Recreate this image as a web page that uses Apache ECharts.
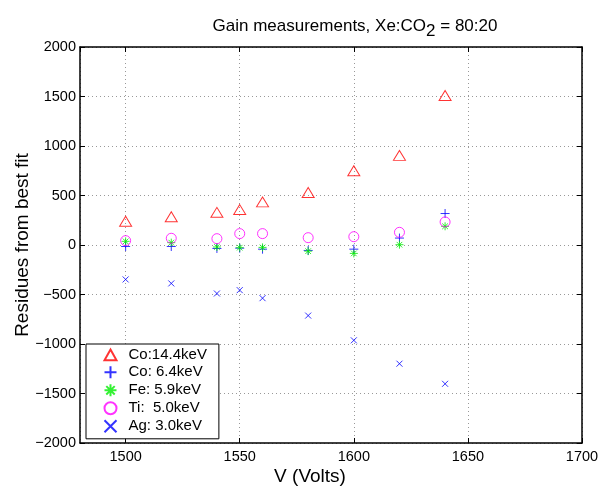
<!DOCTYPE html>
<html><head><meta charset="utf-8">
<script src="https://cdn.jsdelivr.net/npm/echarts@6/dist/echarts.min.js"></script>
<style>html,body{margin:0;padding:0;background:#fff}#c{width:610px;height:488px}</style>
</head><body><div id="c"></div>
<script>
var voltages = [1500, 1520, 1540, 1550, 1560, 1580, 1600, 1620, 1640];
var co144 = [240, 285, 330, 358, 435, 530, 750, 905, 1510];
var co64  = [-15, -15, -35, -32, -42, -55, -42, 70, 318];
var fe59  = [37, 24, -20, -27, -24, -62, -85, 3, 189];
var ti50  = [44, 68, 64, 115, 115, 74, 84, 128, 233];
var ag30  = [-348, -388, -490, -456, -537, -713, -963, -1199, -1402];
var seriesNames = ['Co:14.4keV', 'Co: 6.4keV', 'Fe: 5.9keV', 'Ti:  5.0keV', 'Ag: 3.0keV'];

var FONT = 'Liberation Sans, Arial, sans-serif';
function pairs(ys){ return voltages.map(function(v,i){ return [v, ys[i]]; }); }

var SYM = {
  tri: 'path://M5,0 L10,9 L0,9 Z',
  plus: 'path://M5,0 L5,10 M0,5 L10,5',
  star: 'path://M5,0 L5,10 M0,5 L10,5 M1.5,1.5 L8.5,8.5 M1.5,8.5 L8.5,1.5',
  circ: 'circle',
  cross: 'path://M0,0 L10,10 M0,10 L10,0'
};
function mk(name, data, sym, size, color){
  return {
    name: name, type: 'scatter', data: pairs(data), symbol: sym, symbolSize: size,
    symbolKeepAspect: true,
    itemStyle: { color: 'none', borderColor: color, borderWidth: 1 },
    emphasis: { disabled: true }, silent: true
  };
}
var chart = echarts.init(document.getElementById('c'), null, {renderer: 'canvas'});
var gridLine = { show: true, lineStyle: { color: '#999', type: [1, 3], width: 1 } };
chart.setOption({
  animation: false,
  backgroundColor: '#fff',
  title: {
    text: 'Gain measurements, Xe:CO{s|2} = 80:20',
    left: 350, top: 8, textAlign: 'center',
    textStyle: { fontFamily: FONT, fontSize: 17, fontWeight: 'normal', color: '#000',
      rich: { s: { fontFamily: FONT, fontSize: 17, verticalAlign: 'bottom', padding: [10,0,0,0], color: '#000' } } }
  },
  grid: { left: 80, top: 47, width: 502, height: 396, containLabel: false, outerBoundsMode: 'none' },
  legend: {
    left: 86, top: 344, orient: 'vertical',
    backgroundColor: '#fff', borderColor: '#000', borderWidth: 1,
    padding: [3, 12, 4, 16], itemGap: 1, itemWidth: 12, itemHeight: 13,
    textStyle: { fontFamily: FONT, fontSize: 15, color: '#000', padding: [0,0,0,7] },
    data: seriesNames
  },
  xAxis: [{
    type: 'value', min: 1480, max: 1700, splitNumber: 5, position: 'bottom',
    name: 'V (Volts)', nameLocation: 'middle', nameGap: 24, nameMoveOverlap: false,
    nameTextStyle: { fontFamily: FONT, fontSize: 19, color: '#000', padding: [0, 42, 0, 0] },
    axisLine: { show: true, onZero: false, lineStyle: { color: '#000', width: 1.5 } },
    axisTick: { show: true, inside: true, length: 5, lineStyle: { color: '#000' } },
    axisLabel: { showMinLabel: false, fontFamily: FONT, fontSize: 14.5, color: '#000', margin: 6,
      formatter: function(v){ return String(v); } },
    splitLine: gridLine
  }, {
    type: 'value', min: 1480, max: 1700, splitNumber: 5, position: 'top',
    axisLine: { show: true, onZero: false, lineStyle: { color: '#000', width: 1.5 } },
    axisTick: { show: true, inside: true, length: 5, lineStyle: { color: '#000' } },
    axisLabel: { show: false }, splitLine: { show: false }
  }],
  yAxis: [{
    type: 'value', min: -2000, max: 2000, interval: 500, position: 'left',
    name: 'Residues from best fit', nameLocation: 'middle', nameGap: 48, nameMoveOverlap: false,
    nameTextStyle: { fontFamily: FONT, fontSize: 19, color: '#000' },
    axisLine: { show: true, onZero: false, lineStyle: { color: '#000', width: 1.5 } },
    axisTick: { show: true, inside: true, length: 5, lineStyle: { color: '#000' } },
    axisLabel: { fontFamily: FONT, fontSize: 14.5, color: '#000', margin: 4,
      formatter: function(v){ return v < 0 ? '\u2212' + Math.abs(v) : String(v); } },
    splitLine: gridLine
  }, {
    type: 'value', min: -2000, max: 2000, interval: 500, position: 'right',
    axisLine: { show: true, onZero: false, lineStyle: { color: '#000', width: 1.5 } },
    axisTick: { show: true, inside: true, length: 5, lineStyle: { color: '#000' } },
    axisLabel: { show: false }, splitLine: { show: false }
  }],
  series: [
    mk(seriesNames[0], co144, SYM.tri, [12, 11], '#ff0000'),
    mk(seriesNames[1], co64, SYM.plus, 9, '#0000ff'),
    mk(seriesNames[2], fe59, SYM.star, 8, '#00ee00'),
    mk(seriesNames[3], ti50, SYM.circ, 10, '#ff00ff'),
    mk(seriesNames[4], ag30, SYM.cross, 6, '#0000ff')
  ]
});
</script></body></html>
